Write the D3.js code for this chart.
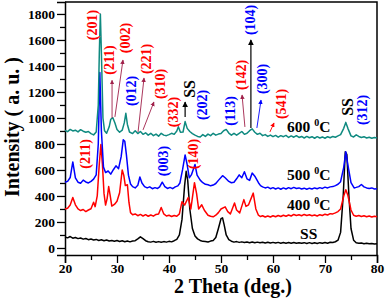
<!DOCTYPE html>
<html>
<head>
<meta charset="utf-8">
<script src="https://cdn.jsdelivr.net/npm/d3@7"></script>
<style>
  body { margin: 0; background: #fff; }
  svg { font-family: "Liberation Serif", "Times New Roman", serif; font-weight: bold; }
</style>
</head>
<body>
<svg id="drawing_region"></svg>
<script>
// 2theta (deg) , intensity (a.u.)
const ss = [
  [20,85],[20.5,78],[21,88],[21.5,75],[22,81],[22.5,72],[23,77],[23.5,68],[24,73],[24.5,64],
  [25,69],[25.5,62],[26,66],[26.5,58],[27,63],[27.5,56],[28,61],[28.5,54],[29,58],[29.5,52],
  [30,57],[30.5,50],[31,55],[31.5,48],[32,53],[32.5,47],[33,53],[33.5,56],[34,70],[34.5,86],
  [35,72],[35.5,56],[36,48],[36.5,45],[37,51],[37.5,44],[38,49],[38.5,44],[39,49],[39.5,45],
  [40,51],[40.5,47],[41,56],[41.5,66],[42,100],[42.5,220],[43,480],[43.3,590],[43.6,520],[44,300],
  [44.5,150],[45,92],[45.5,70],[46,58],[46.5,51],[47,50],[47.5,46],[48,53],[48.5,58],[49,80],
  [49.5,150],[50,225],[50.3,232],[50.6,180],[51,100],[51.5,64],[52,52],[52.5,45],[53,49],[53.5,43],
  [54,47],[54.5,42],[55,46],[55.5,41],[56,46],[56.5,40],[57,45],[57.5,40],[58,44],[58.5,39],
  [59,44],[59.5,38],[60,43],[60.5,38],[61,43],[61.5,37],[62,42],[62.5,37],[63,42],[63.5,36],
  [64,42],[64.5,36],[65,41],[65.5,36],[66,41],[66.5,35],[67,41],[67.5,35],[68,40],[68.5,35],
  [69,41],[69.5,36],[70,42],[70.5,37],[71,44],[71.5,42],[72,48],[72.5,60],[73,120],[73.5,400],
  [73.9,740],[74.2,720],[74.6,400],[75,150],[75.5,60],[76,40],[76.5,36],[77,38],[77.5,33],[78,36],
  [78.5,32],[79,35],[79.5,31],[80,33]
];
const t400 = [
  [20,300],[20.5,306],[21,330],[21.5,388],[22,332],[22.5,300],[23,288],[23.5,296],[24,280],[24.5,292],
  [25,302],[25.5,352],[25.8,318],[26.2,400],[26.6,650],[26.9,795],[27.2,640],[27.5,420],[27.8,330],[28.1,380],
  [28.4,472],[28.7,400],[29,322],[29.5,335],[30,360],[30.5,425],[31,600],[31.3,560],[31.6,480],[32,486],
  [32.3,350],[32.6,272],[33,256],[33.5,262],[34,248],[34.5,258],[35,246],[35.5,256],[36,244],[36.5,254],
  [37,245],[37.5,258],[38,262],[38.5,312],[39,262],[39.5,246],[40,252],[40.5,242],[41,250],[41.5,244],
  [42,262],[42.5,356],[43,330],[43.7,388],[44.2,300],[44.9,502],[45.3,420],[45.7,300],[46.3,332],[46.8,290],
  [47.5,252],[48,244],[48.5,240],[49,252],[49.5,272],[50,300],[50.8,316],[51.3,280],[51.8,262],[52.6,346],
  [53,292],[53.6,270],[54.4,372],[54.8,320],[55.3,332],[56.2,422],[56.7,300],[57.2,252],[57.6,242],[58,248],
  [58.5,238],[59,246],[59.5,238],[60,248],[60.5,240],[61,250],[61.5,242],[62,252],[62.5,244],[63,254],
  [63.5,246],[64,258],[64.5,250],[65,256],[65.5,248],[66,258],[66.5,250],[67,256],[67.5,248],[68,254],
  [68.5,246],[69,256],[69.5,250],[70,260],[70.5,254],[71,264],[71.5,262],[72,270],[72.5,280],[73,300],
  [73.6,400],[74,448],[74.4,405],[75,292],[75.5,252],[76,244],[76.5,250],[77,242],[77.5,248],[78,240],
  [78.5,246],[79,238],[79.5,244],[80,240]
];
const t500 = [
  [20,505],[20.5,512],[21,542],[21.5,662],[22,540],[22.5,506],[23,498],[23.5,522],[24,508],[24.5,500],
  [25,512],[25.5,530],[26,562],[26.4,800],[26.7,1350],[27,900],[27.4,622],[27.8,580],[28.3,592],[28.8,568],
  [29.3,602],[29.8,632],[30.3,610],[30.8,702],[31.2,832],[31.5,820],[31.8,720],[32.2,560],[32.6,492],[33,472],
  [33.5,462],[34,482],[34.4,546],[34.8,500],[35.3,472],[35.8,462],[36.3,470],[36.8,456],[37.3,464],[37.8,458],
  [38.2,470],[38.7,506],[39.2,472],[39.7,458],[40.2,466],[40.7,456],[41.2,470],[41.7,478],[42.1,500],[42.6,600],
  [43.1,716],[43.5,640],[43.9,540],[44.3,562],[45,642],[45.4,560],[46,522],[46.5,502],[47,490],[47.5,486],
  [48,478],[48.5,484],[49,496],[49.5,520],[50.3,556],[50.8,540],[51.5,512],[52,502],[52.5,506],[53,532],
  [53.5,562],[54,540],[54.5,586],[55,532],[55.5,520],[56,576],[56.5,552],[57.2,502],[57.6,480],[58,470],
  [58.5,462],[59,468],[59.5,456],[60,464],[60.5,454],[61,462],[61.5,452],[62,462],[62.5,454],[63,464],
  [63.5,456],[64,466],[64.5,458],[65,462],[65.5,454],[66,460],[66.5,452],[67,460],[67.5,454],[68,462],
  [68.5,456],[69,464],[69.5,458],[70,468],[70.5,462],[71,470],[71.5,472],[72,480],[72.5,490],[73,510],
  [73.6,620],[74,740],[74.4,640],[75,502],[75.6,462],[76,466],[76.5,472],[77,488],[77.5,470],[78,462],
  [78.5,458],[79,462],[79.5,454],[80,456]
];
const t600 = [
  [20,905],[20.5,895],[21,912],[21.5,900],[22,906],[22.5,893],[23,910],[23.5,898],[24,890],[24.5,896],
  [25,880],[25.5,870],[26,892],[26.4,1100],[26.6,1500],[26.8,1800],[27,1500],[27.3,1000],[27.6,902],[28,882],
  [28.5,932],[28.8,990],[29.2,1002],[29.6,962],[30,912],[30.5,890],[31,906],[31.4,962],[31.7,1036],[32,950],
  [32.4,892],[33,880],[33.5,902],[34,880],[34.5,896],[35,874],[35.5,886],[36,868],[36.5,882],[37,864],
  [37.5,876],[38,860],[38.5,882],[39,868],[39.5,864],[40,872],[40.5,882],[41,874],[41.5,900],[41.8,932],
  [42.2,890],[42.7,892],[43.1,972],[43.5,920],[44,896],[44.5,880],[45,868],[45.5,858],[46,854],[46.5,872],
  [47,858],[47.5,876],[48,864],[48.5,882],[49,868],[49.5,876],[50,880],[50.5,902],[51,912],[51.5,884],
  [52,868],[52.5,882],[53,868],[53.5,882],[54,896],[54.5,874],[55,882],[55.5,902],[56,916],[56.5,890],
  [57,874],[57.5,882],[58,864],[58.5,872],[59,858],[59.5,868],[60,856],[60.5,866],[61,852],[61.5,864],
  [62,856],[62.5,866],[63,850],[63.5,862],[64,852],[64.5,864],[65,850],[65.5,858],[66,846],[66.5,858],
  [67,848],[67.5,856],[68,844],[68.5,856],[69,846],[69.5,854],[70,844],[70.5,856],[71,848],[71.5,858],
  [72,852],[72.5,862],[73,872],[73.6,920],[74,966],[74.4,920],[75,862],[75.5,854],[76,870],[76.5,858],
  [77,850],[77.5,856],[78,846],[78.5,852],[79,844],[79.5,850],[80,846]
];

const xTicks = [20, 30, 40, 50, 60, 70, 80];
const yTicks = [0, 200, 400, 600, 800, 1000, 1200, 1400, 1600, 1800];

// peak labels: text, 2theta, intensity (centre of the rotated label), colour key
const peakLabels = [
  ["(201)", 25.2, 1715, "red"], ["(211)", 28.65, 1446, "red"], ["(002)", 31.55, 1615, "red"],
  ["(012)", 32.7, 1208, "blue"], ["(221)", 35.6, 1454, "red"], ["(310)", 38.3, 1262, "red"],
  ["(332)", 40.95, 1046, "red"], ["SS", 43.85, 1223, "black"], ["(202)", 46.35, 1100, "blue"],
  ["(113)", 51.9, 1054, "blue"], ["(142)", 53.85, 1331, "red"], ["(104)", 55.75, 1754, "blue"],
  ["(300)", 57.9, 1300, "blue"], ["(541)", 61.55, 1108, "red"], ["SS", 74.4, 1085, "black"],
  ["(312)", 77.3, 1062, "blue"], ["(211)", 23.85, 723, "red"], ["(003)", 38.85, 669, "blue"],
  ["(140)", 44.8, 723, "red"]
];
// arrows: from [2theta, I] to [2theta, I], colour key
const arrows = [
  [29.05, 1000, 29.05, 1290, "maroon"], [29.6, 1008, 31.15, 1446, "maroon"],
  [34.05, 892, 35.2, 1308, "maroon"], [35.0, 908, 37.1, 1123, "maroon"],
  [43.1, 1008, 43.1, 1123, "black"], [54.6, 931, 54.05, 1177, "maroon"],
  [55.75, 923, 55.75, 1600, "black"], [56.9, 923, 57.7, 1138, "blue"],
  [59.4, 892, 60.2, 962, "red"]
];
// temperature labels: name, 2theta, intensity (text baseline start)
const tempLabels = [["600", 62.7, 892], ["500", 62.7, 523], ["400", 62.7, 292]];
const ssLabel = ["SS", 65.2, 69];

const colors = { red: "#ff0000", blue: "#0000ff", black: "#000000", teal: "#0f8a80", maroon: "#a0204a" };

const width = 387, height = 302;
const margin = { top: 2, right: 10, bottom: 47, left: 65 };
const innerW = width - margin.left - margin.right;
const innerH = height - margin.top - margin.bottom;

const svg = d3.select("#drawing_region").attr("width", width).attr("height", height);
const defs = svg.append("defs");
Object.keys(colors).forEach(k => {
  defs.append("marker")
    .attr("id", "arr-" + k)
    .attr("viewBox", "0 0 10 10")
    .attr("refX", 9).attr("refY", 5)
    .attr("markerWidth", 5).attr("markerHeight", 5)
    .attr("orient", "auto")
    .append("path").attr("d", "M0,0 L10,5 L0,10 z").attr("fill", colors[k]);
});

const chart = svg.append("g").attr("transform", `translate(${margin.left},${margin.top})`);

const xscale = d3.scaleLinear().domain([20, 80]).range([0, innerW]);
const yscale = d3.scaleLinear().domain([-54, 1892]).range([innerH, 0]);

// minor ticks
chart.append("g")
  .attr("transform", `translate(0,${innerH})`)
  .call(d3.axisBottom(xscale).tickValues(d3.range(25, 80, 10)).tickSize(5).tickFormat(""))
  .call(g => g.select(".domain").remove());
chart.append("g")
  .call(d3.axisLeft(yscale).tickValues(d3.range(100, 1900, 200)).tickSize(5).tickFormat(""))
  .call(g => g.select(".domain").remove());

const xaxis = chart.append("g")
  .attr("transform", `translate(0,${innerH})`)
  .call(d3.axisBottom(xscale).tickValues(xTicks).tickSize(8).tickPadding(0).tickFormat(d3.format("d")));
const yaxis = chart.append("g")
  .call(d3.axisLeft(yscale).tickValues(yTicks).tickSize(8).tickPadding(2).tickFormat(d3.format("d")));

[xaxis, yaxis].forEach(g => {
  g.selectAll("text").attr("font-family", "Liberation Serif").attr("font-weight", "bold")
    .attr("font-size", 13.5).attr("fill", "#000");
});
chart.selectAll(".tick line").attr("stroke-width", 1.3);
chart.selectAll(".domain").attr("stroke-width", 1.5);

// frame top/right
chart.append("path")
  .attr("d", `M0,0 H${innerW} V${innerH}`)
  .attr("fill", "none").attr("stroke", "#000").attr("stroke-width", 1.5);

const line = d3.line().x(d => xscale(d[0])).y(d => yscale(d[1]));

[[ss, "black"], [t400, "red"], [t500, "blue"], [t600, "teal"]].forEach(([data, c]) => {
  chart.append("path")
    .attr("d", line(data))
    .attr("fill", "none")
    .attr("stroke", colors[c])
    .attr("stroke-width", 1.5)
    .attr("stroke-linejoin", "round");
});

// arrows
chart.selectAll(".arrow")
  .data(arrows)
  .enter()
  .append("line")
  .attr("x1", d => xscale(d[0])).attr("y1", d => yscale(d[1]))
  .attr("x2", d => xscale(d[2])).attr("y2", d => yscale(d[3]))
  .attr("stroke", d => colors[d[4]])
  .attr("stroke-width", d => d[4] === "black" ? 1.2 : 0.9)
  .attr("marker-end", d => `url(#arr-${d[4]})`);

// peak labels
chart.selectAll(".peak")
  .data(peakLabels)
  .enter()
  .append("text")
  .attr("transform", d => `translate(${xscale(d[1])},${yscale(d[2])}) rotate(-90)`)
  .attr("text-anchor", "middle")
  .attr("dominant-baseline", "central")
  .attr("font-size", d => d[0] === "SS" ? 16 : 14)
  .attr("fill", d => colors[d[3]])
  .text(d => d[0]);

// temperature labels
const temps = chart.selectAll(".temp")
  .data(tempLabels)
  .enter()
  .append("text")
  .attr("x", d => xscale(d[1]))
  .attr("y", d => yscale(d[2]))
  .attr("font-size", 15.5)
  .attr("fill", "#000");
temps.append("tspan").text(d => d[0] + " ");
temps.append("tspan").attr("dy", -6).attr("font-size", 10).text("0");
temps.append("tspan").attr("dy", 6).text("C");

chart.append("text")
  .attr("x", xscale(ssLabel[1]))
  .attr("y", yscale(ssLabel[2]))
  .attr("font-size", 15.5)
  .text(ssLabel[0]);

// axis titles
svg.append("text")
  .attr("x", 233)
  .attr("y", 293)
  .attr("text-anchor", "middle")
  .attr("font-size", 20)
  .text("2 Theta (deg.)");

svg.append("text")
  .attr("transform", "translate(19,127) rotate(-90)")
  .attr("text-anchor", "middle")
  .attr("font-size", 20)
  .text("Intensity ( a. u. )");
</script>
</body>
</html>
